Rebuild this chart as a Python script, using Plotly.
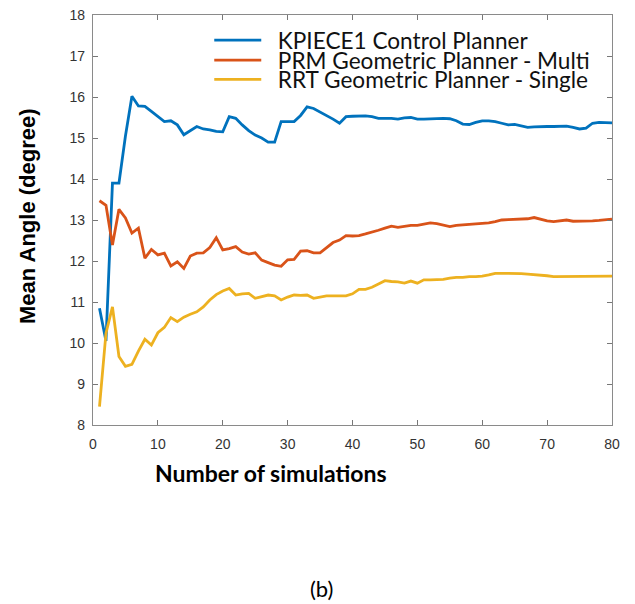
import plotly.graph_objects as go

sims = list(range(1, 81))

kpiece = [10.85, 10.05, 13.9, 13.9, 15.05, 16.02, 15.78, 15.77, 15.65, 15.52,
          15.40, 15.42, 15.32, 15.08, 15.18, 15.28, 15.22, 15.20, 15.16, 15.15,
          15.52, 15.48, 15.32, 15.18, 15.07, 15.00, 14.90, 14.90, 15.40, 15.40,
          15.40, 15.55, 15.76, 15.72, 15.64, 15.56, 15.46, 15.36, 15.52, 15.53,
          15.53, 15.54, 15.52, 15.48, 15.48, 15.48, 15.46, 15.49, 15.50, 15.46,
          15.46, 15.47, 15.48, 15.48, 15.47, 15.42, 15.34, 15.33, 15.38, 15.42,
          15.42, 15.40, 15.36, 15.32, 15.33, 15.30, 15.26, 15.27, 15.28, 15.28,
          15.28, 15.29, 15.29, 15.26, 15.22, 15.24, 15.36, 15.38, 15.38, 15.37]

prm = [13.47, 13.36, 12.39, 13.26, 13.05, 12.68, 12.80, 12.07, 12.28, 12.15,
       12.19, 11.88, 11.98, 11.82, 12.12, 12.19, 12.20, 12.33, 12.57, 12.27,
       12.30, 12.35, 12.22, 12.17, 12.20, 12.02, 11.96, 11.90, 11.87, 12.03,
       12.04, 12.24, 12.25, 12.20, 12.20, 12.32, 12.45, 12.51, 12.62, 12.61,
       12.62, 12.66, 12.70, 12.75, 12.80, 12.85, 12.82, 12.84, 12.87, 12.87,
       12.90, 12.93, 12.91, 12.88, 12.84, 12.87, 12.88, 12.89, 12.90, 12.92,
       12.93, 12.96, 13.00, 13.01, 13.02, 13.02, 13.03, 13.06, 13.02, 12.98,
       12.96, 12.98, 13.00, 12.97, 12.97, 12.97, 12.98, 12.99, 13.00, 13.02]

rrt = [8.45, 10.24, 10.88, 9.67, 9.43, 9.48, 9.80, 10.09, 9.95, 10.25,
       10.38, 10.62, 10.52, 10.63, 10.70, 10.76, 10.88, 11.05, 11.18, 11.27,
       11.33, 11.17, 11.20, 11.21, 11.09, 11.13, 11.17, 11.15, 11.05, 11.12,
       11.17, 11.16, 11.17, 11.09, 11.12, 11.15, 11.15, 11.15, 11.15, 11.20,
       11.31, 11.31, 11.36, 11.44, 11.52, 11.50, 11.49, 11.46, 11.51, 11.46,
       11.54, 11.54, 11.55, 11.55, 11.58, 11.60, 11.60, 11.62, 11.62, 11.63,
       11.66, 11.70, 11.70, 11.70, 11.70, 11.69, 11.68, 11.67, 11.66, 11.64,
       11.62, 11.62, 11.62, 11.63, 11.63, 11.63, 11.62, 11.62, 11.62, 11.63]

series_names = ["KPIECE1 Control Planner",
                "PRM Geometric Planner - Multi",
                "RRT Geometric Planner - Single"]
series_values = [kpiece, prm, rrt]
colors = ["#0072BD", "#D95319", "#EDB120"]
legend_ids = ["legend", "legend2", "legend3"]

x_ticks = [0, 10, 20, 30, 40, 50, 60, 70, 80]
y_ticks = [8, 9, 10, 11, 12, 13, 14, 15, 16, 17, 18]

fig = go.Figure()
for name, vals, col, lg in zip(series_names, series_values, colors, legend_ids):
    fig.add_trace(go.Scatter(x=sims, y=vals, mode="lines",
                             name="\u00a0\u00a0" + name,
                             line=dict(color=col, width=2.8), legend=lg))

legend_common = dict(bgcolor="rgba(0,0,0,0)", borderwidth=0,
                     font=dict(family="Lato", size=22.6, color="#111"),
                     xanchor="left", yanchor="middle", itemwidth=47)
leg_x = 0.224
tick_font = dict(family="Arial, Liberation Sans, sans-serif", size=14, color="#333")
fig.update_layout(
    width=627, height=596,
    margin=dict(l=85, r=23, t=7, b=179, autoexpand=False),
    plot_bgcolor="white", paper_bgcolor="white",
    showlegend=True,
    legend=dict(x=leg_x, y=0.938, **legend_common),
    legend2=dict(x=leg_x, y=0.889, **legend_common),
    legend3=dict(x=leg_x, y=0.842, **legend_common),
    xaxis=dict(range=[0, 80], tickvals=x_ticks, ticks="inside", ticklen=5,
               tickcolor="#777", showline=True, linecolor="#8a8a8a", linewidth=1.2,
               mirror="ticks", showgrid=False, zeroline=False, automargin=False,
               tickfont=tick_font, ticklabelstandoff=6, ticklabeloverflow="allow"),
    yaxis=dict(range=[8, 18], tickvals=y_ticks, ticks="inside", ticklen=5,
               tickcolor="#777", showline=True, linecolor="#8a8a8a", linewidth=1.2,
               mirror="ticks", showgrid=False, zeroline=False, automargin=False,
               tickfont=tick_font, ticklabelstandoff=4, ticklabeloverflow="allow"),
    annotations=[
        dict(text="<b>Mean Angle (degree)</b>", xref="paper", yref="paper",
             x=-0.125, y=0.51, xanchor="center", yanchor="middle", textangle=-90,
             showarrow=False,
             font=dict(family="Arial, Liberation Sans, sans-serif", size=22, color="black")),
        dict(text="<b>Number of simulations</b>", xref="paper", yref="paper",
             x=(271 - 93) / 519, y=-(473 - 425) / 410, xanchor="center", yanchor="middle",
             showarrow=False, font=dict(family="Lato", size=23, color="black")),
        dict(text="(b)", xref="paper", yref="paper",
             x=(321 - 93) / 519, y=-(588 - 425) / 410, xanchor="center", yanchor="middle",
             showarrow=False, font=dict(family="Lato", size=22, color="black")),
    ],
)

fig.write_html("out.html")
